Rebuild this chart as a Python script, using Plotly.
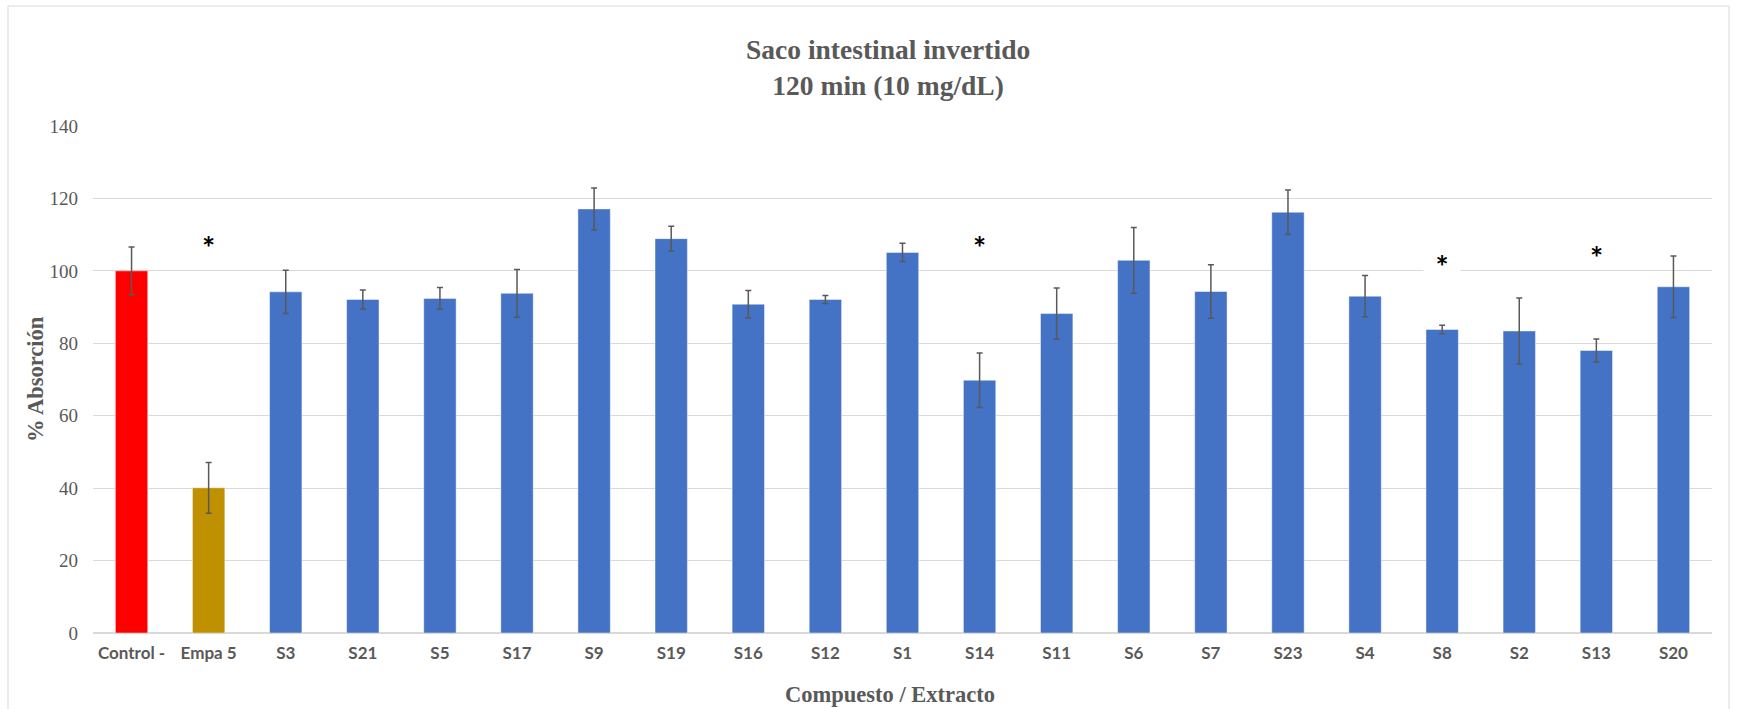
import plotly.graph_objects as go

categories = ["Control -", "Empa 5", "S3", "S21", "S5", "S17", "S9", "S19", "S16", "S12",
              "S1", "S14", "S11", "S6", "S7", "S23", "S4", "S8", "S2", "S13", "S20"]
values = [100.0, 40.1, 94.2, 92.1, 92.4, 93.8, 117.1, 108.9, 90.8, 92.1,
          105.1, 69.8, 88.2, 102.9, 94.3, 116.2, 93.0, 83.8, 83.4, 78.0, 95.6]
errors = [6.6, 7.0, 6.0, 2.6, 3.0, 6.6, 5.8, 3.4, 3.8, 1.1,
          2.5, 7.5, 7.1, 9.1, 7.4, 6.1, 5.7, 1.2, 9.1, 3.2, 8.5]
colors = ["#FF0000", "#BF9000"] + ["#4472C4"] * 19

star_cats = ["Empa 5", "S14", "S8", "S13"]
star_y = [109.2, 109.1, 103.9, 106.2]

fig = go.Figure()
fig.add_trace(go.Bar(
    x=categories, y=values,
    marker=dict(color=colors, line=dict(color="rgba(255,255,255,0.45)", width=1)),
    error_y=dict(type="data", array=errors, visible=True, color="#595959",
                 thickness=1.5, width=3),
    showlegend=False,
))

W, H = 1741, 709
L, R, T, B = 93, 29, 126, 76
pw, ph = W - L - R, H - T - B

def px_x(p):
    return (p - L) / pw

def px_y(p):
    return (H - B - p) / ph

annotations = []
for c, yv in zip(star_cats, star_y):
    a = dict(x=c, y=yv, xref="x", yref="y", text="<b>*</b>", showarrow=False,
             font=dict(family="Lato", size=31, color="#000000"),
             xanchor="center", yanchor="middle", yshift=-9)
    if c == "S8":
        a.update(bgcolor="#FFFFFF", width=32, borderpad=2)
    annotations.append(a)

annotations.append(dict(
    x=px_x(888), y=px_y(67), xref="paper", yref="paper",
    text="<b>Saco intestinal invertido<br>120 min (10 mg/dL)</b>", showarrow=False,
    font=dict(family="Liberation Serif", size=27.5, color="#595959"),
    xanchor="center", yanchor="middle"))
annotations.append(dict(
    x=px_x(890), y=px_y(694), xref="paper", yref="paper",
    text="<b>Compuesto / Extracto</b>", showarrow=False,
    font=dict(family="Liberation Serif", size=22.5, color="#595959"),
    xanchor="center", yanchor="middle"))
annotations.append(dict(
    x=px_x(35), y=px_y(379), xref="paper", yref="paper",
    text="<b>% Absorción</b>", showarrow=False, textangle=-90,
    font=dict(family="Liberation Serif", size=22.5, color="#595959"),
    xanchor="center", yanchor="middle"))

fig.update_layout(
    width=W, height=H,
    margin=dict(l=L, r=R, t=T, b=B, pad=0),
    paper_bgcolor="#FFFFFF", plot_bgcolor="#FFFFFF",
    bargap=0.58,
    annotations=annotations,
    shapes=[dict(type="rect", xref="paper", yref="paper",
                 x0=px_x(8), x1=px_x(1729), y0=px_y(730), y1=px_y(6),
                 line=dict(color="#D9D9D9", width=1), fillcolor="rgba(0,0,0,0)",
                 layer="below")],
)
fig.update_xaxes(
    type="category", showgrid=False, showline=False, zeroline=False,
    tickfont=dict(family="Lato", size=17, color="#595959", weight="bold"),
    ticks="", ticklabelstandoff=8,
)
fig.update_yaxes(
    range=[0, 140], dtick=20, showgrid=True, gridcolor="#D9D9D9", gridwidth=1,
    zeroline=True, zerolinecolor="#D9D9D9", zerolinewidth=1.5,
    showline=False, ticks="", ticklabelstandoff=14,
    tickfont=dict(family="Liberation Serif", size=19, color="#595959"),
)

fig.write_html("out.html", config={"displayModeBar": False},
               post_script="document.body.style.margin='0';document.body.style.overflow='hidden';")
